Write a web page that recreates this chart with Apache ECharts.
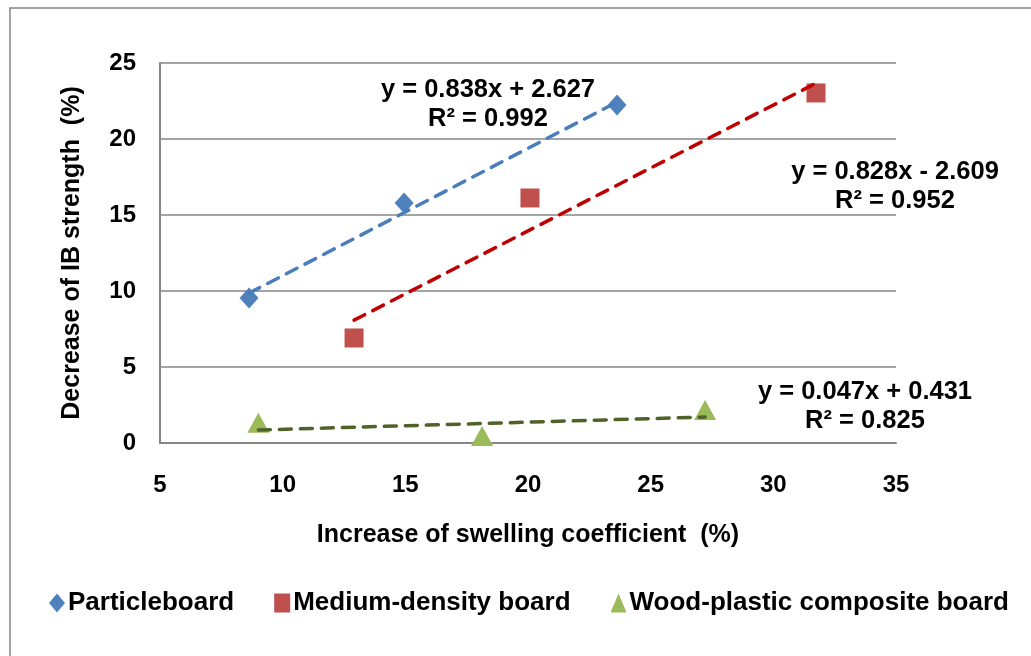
<!DOCTYPE html>
<html>
<head>
<meta charset="utf-8">
<script src="https://cdn.jsdelivr.net/npm/echarts@6/dist/echarts.min.js"></script>
<style>
  html, body { margin: 0; padding: 0; background: #fff; }
  #chart { width: 1031px; height: 656px; }
</style>
</head>
<body>
<div id="chart"></div>
<script>
// Swelling coefficient increase (%) vs. IB strength decrease (%) per board type
const seriesNames = ['Particleboard', 'Medium-density board', 'Wood-plastic composite board'];

const particleX = [8.63, 14.95, 23.63];
const particleY = [9.54, 15.79, 22.24];

const mdfX = [12.91, 20.08, 31.74];
const mdfY = [6.91, 16.12, 23.03];

const wpcX = [9.01, 18.13, 27.22];
const wpcY = [1.34, 0.46, 2.17];

// Linear trendline coefficients: [slope, intercept, R²]
const particleFit = [0.838, 2.627, 0.992];
const mdfFit = [0.828, -2.609, 0.952];
const wpcFit = [0.047, 0.431, 0.825];

const xTicks = [5, 10, 15, 20, 25, 30, 35];
const yTicks = [0, 5, 10, 15, 20, 25];

const FONT = '"Liberation Sans", Arial, sans-serif';
const GRID_GRAY = '#868686';

function zip(xs, ys) { return xs.map((x, i) => [x, ys[i]]); }
function trend(xs, fit) {
  const lo = Math.min(...xs), hi = Math.max(...xs);
  return [[lo, fit[0] * lo + fit[1]], [hi, fit[0] * hi + fit[1]]];
}
function eqText(fit) {
  const sign = fit[1] < 0 ? '-' : '+';
  return 'y = ' + fit[0].toFixed(3) + 'x ' + sign + ' ' + Math.abs(fit[1]).toFixed(3);
}

const chart = echarts.init(document.getElementById('chart'), null, { renderer: 'canvas' });

const eqStyle = { fontFamily: FONT, fontWeight: 'bold', fontSize: 25.5, fill: '#000', textAlign: 'center', textVerticalAlign: 'middle' };

function eqGraphics(fit, cx, cy) {
  return [
    { type: 'text', x: cx, y: cy, style: Object.assign({ text: eqText(fit) }, eqStyle), z: 10 },
    { type: 'text', x: cx, y: cy + 29, style: Object.assign({ text: 'R² = ' + fit[2].toFixed(3) }, eqStyle), z: 10 }
  ];
}

const option = {
  animation: false,
  backgroundColor: '#fff',
  grid: { left: 160, top: 63, right: 135, bottom: 213, containLabel: false },
  xAxis: {
    type: 'value', min: xTicks[0], max: xTicks[xTicks.length - 1], interval: 5,
    name: 'Increase of swelling coefficient  (%)',
    nameLocation: 'middle', nameGap: 80,
    nameTextStyle: { fontFamily: FONT, fontWeight: 'bold', fontSize: 25, color: '#000' },
    axisLine: { show: true, lineStyle: { color: GRID_GRAY, width: 2 } },
    axisTick: { show: false },
    splitLine: { show: false },
    axisLabel: { fontFamily: FONT, fontWeight: 'bold', fontSize: 24, color: '#000', margin: 30 }
  },
  yAxis: {
    type: 'value', min: yTicks[0], max: yTicks[yTicks.length - 1], interval: 5,
    name: 'Decrease of IB strength  (%)',
    nameLocation: 'middle', nameGap: 75, nameRotate: 90,
    nameTextStyle: { fontFamily: FONT, fontWeight: 'bold', fontSize: 25, color: '#000' },
    axisLine: { show: true, lineStyle: { color: GRID_GRAY, width: 2 } },
    axisTick: { show: false },
    splitLine: { show: true, lineStyle: { color: GRID_GRAY, width: 1.5 } },
    axisLabel: { fontFamily: FONT, fontWeight: 'bold', fontSize: 24, color: '#000', margin: 24 }
  },
  legend: {
    left: 44, top: 585,
    itemGap: 40, itemWidth: 16, itemHeight: 19,
    textStyle: { fontFamily: FONT, fontWeight: 'bold', fontSize: 26, color: '#000', padding: [0, 0, 0, -2] },
    data: [
      { name: seriesNames[0], icon: 'diamond' },
      { name: seriesNames[1], icon: 'rect' },
      { name: seriesNames[2], icon: 'triangle' }
    ]
  },
  graphic: [
    { type: 'rect', shape: { x: 10, y: 8, width: 1040, height: 660 },
      style: { fill: 'none', stroke: GRID_GRAY, lineWidth: 1.5 }, z: -1 }
  ].concat(
    eqGraphics(particleFit, 488, 90),
    eqGraphics(mdfFit, 895, 172),
    eqGraphics(wpcFit, 865, 392)
  ),
  series: [
    { name: seriesNames[0], type: 'scatter', symbol: 'diamond', symbolSize: [19, 21],
      itemStyle: { color: '#4f81bd', opacity: 1 }, data: zip(particleX, particleY), z: 2 },
    { name: seriesNames[1], type: 'scatter', symbol: 'rect', symbolSize: 19,
      itemStyle: { color: '#c0504d', opacity: 1 }, data: zip(mdfX, mdfY), z: 2 },
    { name: seriesNames[2], type: 'scatter', symbol: 'triangle', symbolSize: [22, 20],
      itemStyle: { color: '#9bbb59', opacity: 1 }, data: zip(wpcX, wpcY), z: 2 },
    { name: 'trend-pb', type: 'line', data: trend(particleX, particleFit), showSymbol: false, symbol: 'none',
      lineStyle: { color: '#4a7ebb', width: 3.5, type: [12, 9], cap: 'round' }, z: 3, silent: true },
    { name: 'trend-mdf', type: 'line', data: trend(mdfX, mdfFit), showSymbol: false, symbol: 'none',
      lineStyle: { color: '#c00000', width: 3.5, type: [12, 9], cap: 'round' }, z: 3, silent: true },
    { name: 'trend-wpc', type: 'line', data: trend(wpcX, wpcFit), showSymbol: false, symbol: 'none',
      lineStyle: { color: '#4f6228', width: 3.5, type: [12, 9], cap: 'round' }, z: 3, silent: true }
  ]
};

chart.setOption(option);
</script>
</body>
</html>
